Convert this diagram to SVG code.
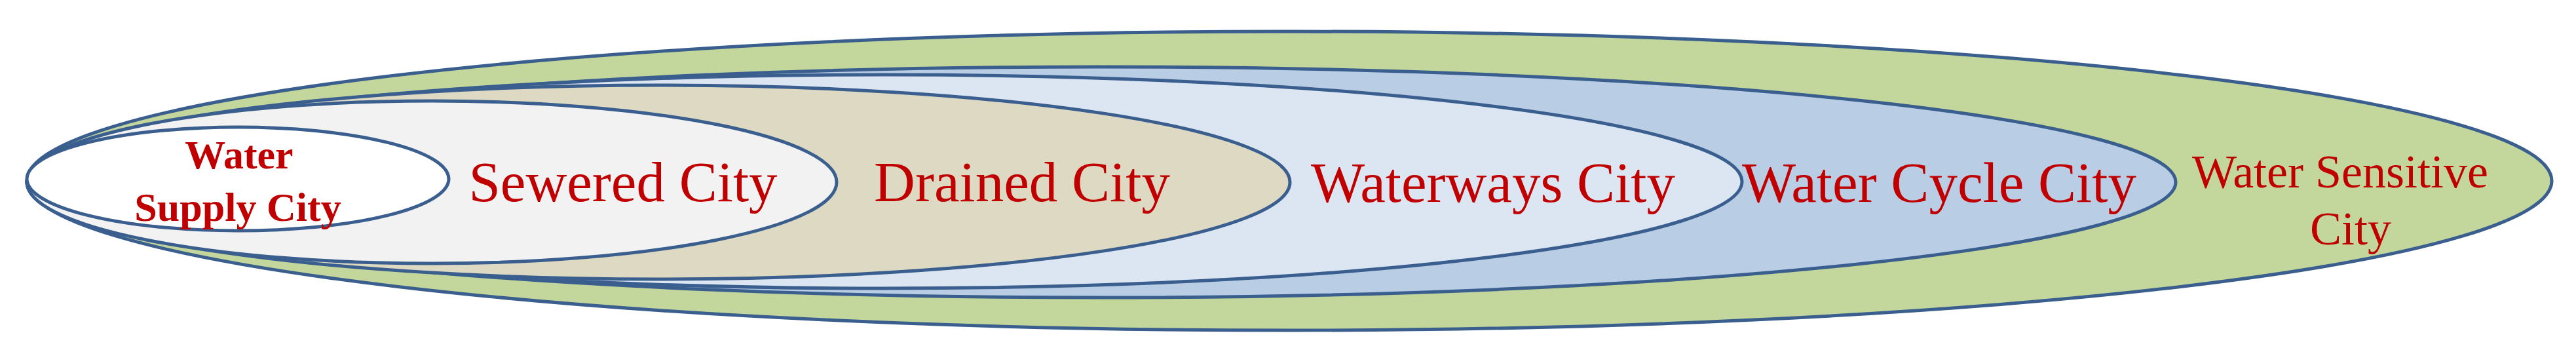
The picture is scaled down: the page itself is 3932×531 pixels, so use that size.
<svg xmlns="http://www.w3.org/2000/svg" width="3932" height="531" viewBox="0 0 3932 531">
<style>
.e{stroke:#3A5F8F;stroke-width:5}
.t{font-family:"Liberation Serif","Times New Roman",serif;fill:#C00000;text-anchor:middle}
</style>
<rect width="3932" height="531" fill="#fff"/>
<g id="water-sensitive"><ellipse class="e" cx="1968" cy="276" rx="1927" ry="228" fill="#C3D69B"/><text class="t" x="3572" y="286" font-size="72">Water Sensitive</text><text class="t" x="3588" y="373" font-size="72">City</text></g>
<g id="water-cycle"><ellipse class="e" cx="1681" cy="278" rx="1640" ry="176" fill="#B9CDE5"/><text class="t" x="2960" y="308" font-size="87">Water Cycle City</text></g>
<g id="waterways"><ellipse class="e" cx="1350" cy="277" rx="1309" ry="163" fill="#DCE6F2"/><text class="t" x="2279" y="308" font-size="87">Waterways City</text></g>
<g id="drained"><ellipse class="e" cx="1005" cy="278" rx="964" ry="148" fill="#DDD9C3"/><text class="t" x="1560" y="307" font-size="87">Drained City</text></g>
<g id="sewered"><ellipse class="e" cx="659" cy="278" rx="618" ry="124" fill="#F2F2F2"/><text class="t" x="951" y="307" font-size="87">Sewered City</text></g>
<g id="water-supply"><ellipse class="e" cx="363" cy="273" rx="322" ry="79" fill="#fff"/><text class="t" x="365" y="257" font-size="62" font-weight="bold">Water</text><text class="t" x="363" y="337" font-size="62" font-weight="bold">Supply City</text></g>
<g id="connectors"/>
</svg>
